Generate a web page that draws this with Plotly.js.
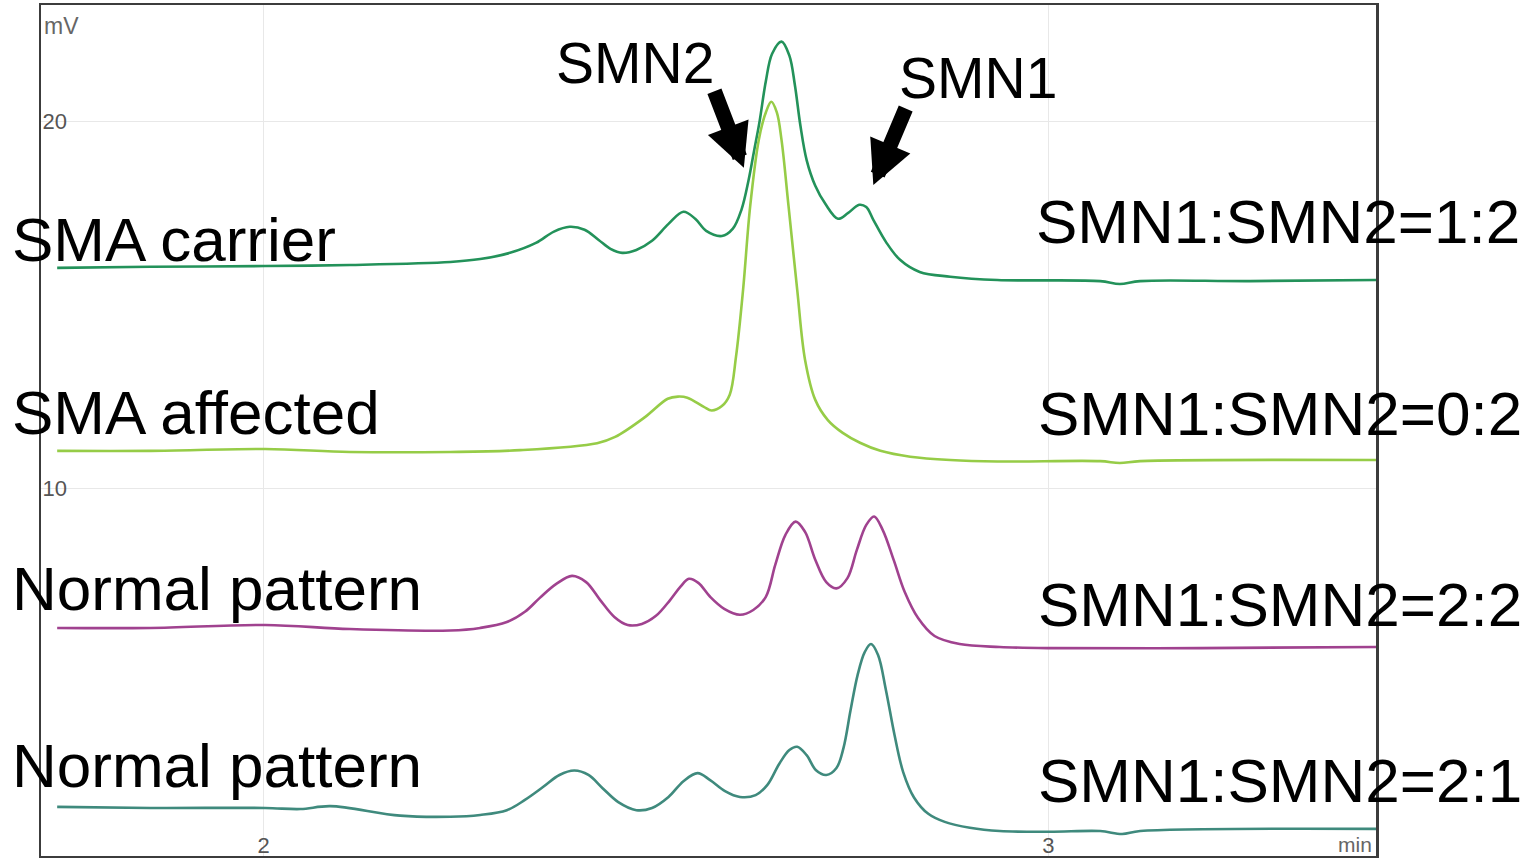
<!DOCTYPE html>
<html>
<head>
<meta charset="utf-8">
<script src="https://cdn.plot.ly/plotly-3.0.1.min.js"></script>
<style>html,body{margin:0;padding:0;background:#fff;}#chart{width:1539px;height:858px;}</style>
</head>
<body>
<div id="chart"></div>
<script>
// Retention time (min) and signal (mV)
const carrierTime = [1.737,1.856,2.002,2.110,2.238,2.276,2.314,2.347,2.370,2.390,2.409,2.427,2.442,2.457,2.475,2.495,2.516,2.535,2.550,2.564,2.584,2.598,2.609,2.618,2.625,2.632,2.640,2.648,2.660,2.670,2.677,2.684,2.692,2.703,2.716,2.732,2.745,2.759,2.768,2.777,2.793,2.811,2.836,2.875,2.935,3.066,3.091,3.117,3.257,3.418];
const carrierMv   = [16.01,16.04,16.06,16.09,16.17,16.25,16.42,16.69,17.00,17.13,17.05,16.77,16.53,16.42,16.50,16.75,17.21,17.54,17.35,17.02,16.88,17.08,17.60,18.40,19.20,20.00,21.10,21.85,22.18,21.80,21.00,19.90,18.95,18.25,17.75,17.35,17.51,17.73,17.67,17.32,16.72,16.23,15.90,15.77,15.68,15.65,15.57,15.65,15.65,15.68];

const affectedTime = [1.737,1.856,2.002,2.110,2.238,2.327,2.425,2.448,2.486,2.515,2.528,2.540,2.561,2.571,2.584,2.594,2.602,2.611,2.620,2.631,2.640,2.647,2.654,2.660,2.669,2.680,2.690,2.703,2.719,2.738,2.760,2.786,2.824,2.875,2.935,3.066,3.091,3.117,3.418];
const affectedMv   = [11.02,11.02,11.07,10.99,10.99,11.04,11.23,11.40,11.94,12.44,12.50,12.47,12.22,12.12,12.24,12.55,13.59,15.41,17.68,19.50,20.25,20.54,20.25,19.50,17.68,15.41,13.50,12.41,11.86,11.51,11.24,11.02,10.86,10.77,10.73,10.74,10.69,10.74,10.77];

const normal1Time = [1.737,1.856,2.002,2.110,2.238,2.276,2.310,2.333,2.352,2.373,2.393,2.411,2.429,2.447,2.464,2.482,2.500,2.518,2.531,2.542,2.554,2.569,2.587,2.607,2.624,2.640,2.652,2.665,2.678,2.690,2.703,2.717,2.730,2.744,2.756,2.768,2.778,2.789,2.803,2.817,2.834,2.855,2.887,2.938,3.002,3.193,3.418];
const normal1Mv   = [6.19,6.19,6.27,6.16,6.12,6.19,6.35,6.63,7.01,7.39,7.61,7.44,6.95,6.49,6.27,6.30,6.52,6.95,7.31,7.53,7.42,7.04,6.71,6.55,6.68,7.04,7.91,8.73,9.09,8.81,8.05,7.44,7.27,7.55,8.32,9.00,9.23,8.86,8.04,7.17,6.46,5.97,5.75,5.67,5.64,5.64,5.67];

const normal2Time = [1.737,1.856,2.002,2.047,2.085,2.174,2.238,2.276,2.310,2.333,2.356,2.377,2.396,2.414,2.432,2.452,2.475,2.495,2.516,2.535,2.553,2.569,2.588,2.607,2.627,2.642,2.657,2.670,2.680,2.692,2.704,2.717,2.730,2.739,2.748,2.757,2.766,2.774,2.783,2.793,2.804,2.815,2.829,2.847,2.868,2.900,2.938,3.002,3.066,3.094,3.117,3.418];
const normal2Mv   = [1.31,1.28,1.28,1.25,1.33,1.07,1.04,1.09,1.22,1.50,1.85,2.18,2.30,2.18,1.82,1.44,1.22,1.28,1.58,2.01,2.23,2.04,1.74,1.58,1.63,1.91,2.48,2.86,2.95,2.72,2.31,2.18,2.37,2.92,3.95,4.91,5.53,5.75,5.45,4.50,3.27,2.26,1.56,1.12,0.90,0.74,0.65,0.63,0.65,0.57,0.65,0.71];

const sampleLabels = ["SMA carrier", "SMA affected", "Normal pattern", "Normal pattern"];
const ratioLabels  = ["SMN1:SMN2=1:2", "SMN1:SMN2=0:2", "SMN1:SMN2=2:2", "SMN1:SMN2=2:1"];
const xTickVals = [1.737, 2, 3];
const xTickText = ["", "2", "3"];
const yTickVals = [10, 20];

const colors = ["#23925a", "#96cc47", "#a0428f", "#3f8a7d"];
const series = [[carrierTime, carrierMv],[affectedTime, affectedMv],[normal1Time, normal1Mv],[normal2Time, normal2Mv]];

const traces = series.map((s, i) => ({
  x: s[0], y: s[1], type: 'scatter', mode: 'lines',
  line: {color: colors[i], width: 2.6, shape: 'spline', smoothing: 1},
  hoverinfo: 'skip', showlegend: false
}));

const FONT = '"Liberation Sans", Arial, sans-serif';
const labelY = [0.7250, 0.5206, 0.3143, 0.1063];
const ratioY = [0.7456, 0.5200, 0.2955, 0.0887];
const ratioX = [0.7439, 0.7454, 0.7454, 0.7454];

const annotations = [];
sampleLabels.forEach((t, i) => annotations.push({
  text: t, xref: 'paper', yref: 'paper', x: -0.0232, y: labelY[i],
  xanchor: 'left', yanchor: 'middle', showarrow: false,
  font: {family: FONT, size: 62, color: '#000'}
}));
ratioLabels.forEach((t, i) => annotations.push({
  text: t, xref: 'paper', yref: 'paper', x: ratioX[i], y: ratioY[i],
  xanchor: 'left', yanchor: 'middle', showarrow: false,
  font: {family: FONT, size: 62, color: '#000'}
}));
annotations.push({text: 'SMN2', xref: 'paper', yref: 'paper', x: 0.3843, y: 0.9324, xanchor: 'left', yanchor: 'middle', showarrow: false, font: {family: FONT, size: 57, color: '#000'}});
annotations.push({text: 'SMN1', xref: 'paper', yref: 'paper', x: 0.6412, y: 0.9148, xanchor: 'left', yanchor: 'middle', showarrow: false, font: {family: FONT, size: 57, color: '#000'}});
// arrows
annotations.push({text: '', x: 2.612, y: 18.74, xref: 'x', yref: 'y', showarrow: true, ax: -30, ay: -78, arrowhead: 2, arrowsize: 0.58, arrowwidth: 15, arrowcolor: '#000', standoff: 0});
annotations.push({text: '', x: 2.777, y: 18.27, xref: 'x', yref: 'y', showarrow: true, ax: 33, ay: -78, arrowhead: 2, arrowsize: 0.58, arrowwidth: 15, arrowcolor: '#000', standoff: 0});
// axis unit labels
annotations.push({text: 'mV', xref: 'paper', yref: 'paper', x: 0.001, y: 0.9759, xanchor: 'left', yanchor: 'middle', showarrow: false, font: {family: FONT, size: 23, color: '#666'}});
annotations.push({text: 'min', xref: 'paper', yref: 'paper', x: 0.9985, y: 0.0135, xanchor: 'right', yanchor: 'middle', showarrow: false, font: {family: FONT, size: 21, color: '#666'}});

const layout = {
  width: 1539, height: 858,
  margin: {l: 41, r: 163, t: 5, b: 2},
  paper_bgcolor: '#ffffff', plot_bgcolor: '#ffffff',
  showlegend: false,
  xaxis: {
    range: [1.7164, 3.4175], tickvals: xTickVals, ticktext: xTickText,
    ticklabelposition: 'inside', ticks: '', showgrid: true, gridcolor: '#e8e8e8', gridwidth: 1.5,
    zeroline: false, showline: true, mirror: true, linecolor: '#3c3c3c', linewidth: 2.5,
    tickfont: {family: FONT, size: 22, color: '#555'}
  },
  yaxis: {
    range: [-0.03, 23.18], tickvals: yTickVals,
    ticklabelposition: 'inside', ticks: '', ticklabelstandoff: 3, showgrid: true, gridcolor: '#e8e8e8', gridwidth: 1.5,
    zeroline: false, showline: true, mirror: true, linecolor: '#3c3c3c', linewidth: 2.5,
    tickfont: {family: FONT, size: 22, color: '#555'}
  },
  annotations: annotations
};

Plotly.newPlot('chart', traces, layout, {displayModeBar: false, staticPlot: true});
</script>
</body>
</html>
